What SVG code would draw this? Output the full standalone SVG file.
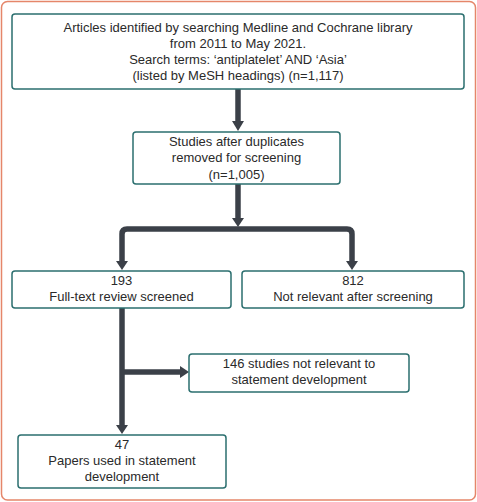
<svg xmlns="http://www.w3.org/2000/svg" width="477" height="502" viewBox="0 0 477 502">
<style>
.frame{fill:#fff;stroke:#e5866a;stroke-width:1.5}
.box{fill:#fff;stroke:#2b6f6f;stroke-width:1.5}
.t{font-family:"Liberation Sans",Arial,sans-serif;font-size:13px;fill:#2a2a2a;text-anchor:middle}
.ln{fill:none;stroke:#3b4048;stroke-width:5.5;stroke-linejoin:round}
.ah{fill:#3b4048}
</style>
<rect class="frame" x="1.5" y="1.5" width="474" height="498.5" rx="6"/>
<g id="connectors">
<line class="ln" x1="238" y1="89" x2="238" y2="122"/>
<polygon class="ah" points="232,121 244,121 238,131"/>
<line class="ln" x1="238" y1="184" x2="238" y2="219"/>
<polygon class="ah" points="232,218 244,218 238,227"/>
<path class="ln" d="M122,262 V234 Q122,229 127,229 H347 Q352,229 352,234 V262"/>
<polygon class="ah" points="116,261 128,261 122,270"/>
<polygon class="ah" points="346,261 358,261 352,270"/>
<line class="ln" x1="122" y1="308" x2="122" y2="426"/>
<polygon class="ah" points="116,425 128,425 122,434"/>
<line class="ln" x1="122" y1="372" x2="181" y2="372"/>
<polygon class="ah" points="180,366 180,378 189,372"/>
</g>
<g id="n1">
<rect class="box" x="12" y="14" width="452" height="75" rx="3"/>
<text class="t" x="238" y="32">Articles identified by searching Medline and Cochrane library</text>
<text class="t" x="238" y="48">from 2011 to May 2021.</text>
<text class="t" x="238" y="64">Search terms: ‘antiplatelet’ AND ‘Asia’</text>
<text class="t" x="238" y="80">(listed by MeSH headings) (n=1,117)</text>
</g>
<g id="n2">
<rect class="box" x="133" y="132" width="207" height="52" rx="3"/>
<text class="t" x="236.5" y="146">Studies after duplicates</text>
<text class="t" x="236.5" y="162">removed for screening</text>
<text class="t" x="236.5" y="179">(n=1,005)</text>
</g>
<g id="n3">
<rect class="box" x="12" y="271" width="219" height="37" rx="3"/>
<text class="t" x="121.5" y="285">193</text>
<text class="t" x="121.5" y="301">Full-text review screened</text>
</g>
<g id="n4">
<rect class="box" x="242" y="271" width="222" height="37" rx="3"/>
<text class="t" x="353" y="285">812</text>
<text class="t" x="353" y="301">Not relevant after screening</text>
</g>
<g id="n5">
<rect class="box" x="189" y="354" width="220" height="38" rx="3"/>
<text class="t" x="299" y="368">146 studies not relevant to</text>
<text class="t" x="299" y="384">statement development</text>
</g>
<g id="n6">
<rect class="box" x="18" y="435" width="208" height="53" rx="3"/>
<text class="t" x="122" y="449">47</text>
<text class="t" x="122" y="465">Papers used in statement</text>
<text class="t" x="122" y="481">development</text>
</g>
</svg>
